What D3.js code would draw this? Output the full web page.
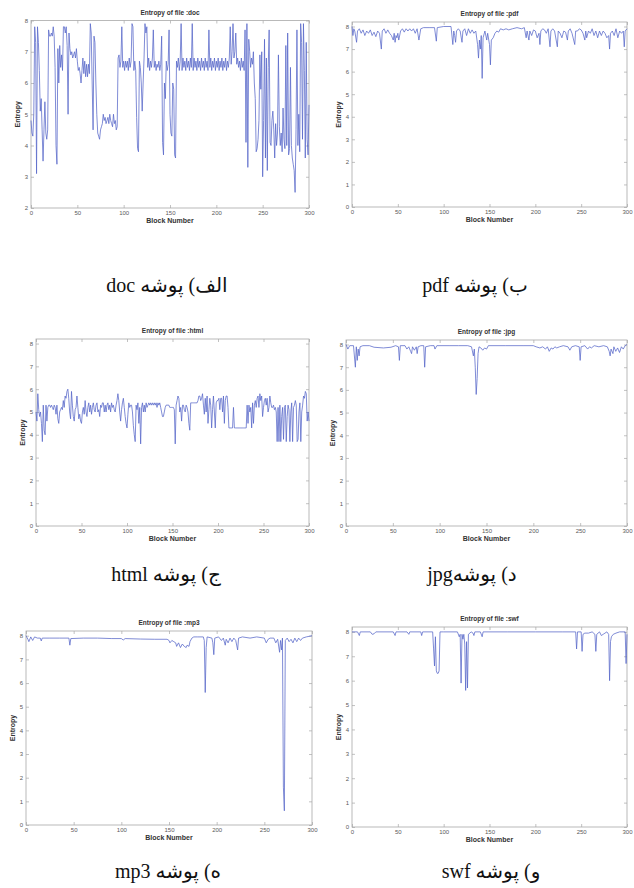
<!DOCTYPE html>
<html lang="fa">
<head>
<meta charset="UTF-8">
<title>Entropy of files</title>
<style>
  body { margin: 0; background: #fff; }
  svg { display: block; }
</style>
</head>
<body>
<script src="https://d3js.org/d3.v7.min.js"></script>
<script>

// entropy per block (blocks 0..300)
var docEntropy = [
  4.8, 4.4, 4.3, 5.0, 7.8, 7.3, 3.1, 7.8, 7.3, 6.4,
  5.1, 5.5, 4.5, 3.5, 4.5, 5.4, 4.4, 4.2, 4.5, 7.7,
  7.5, 7.5, 7.6, 7.5, 7.8, 7.5, 6.5, 4.0, 3.4, 7.1,
  6.0, 7.2, 6.5, 6.9, 6.4, 7.8, 7.8, 7.6, 7.8, 7.2,
  5.0, 7.6, 7.1, 6.9, 7.0, 6.8, 6.9, 7.0, 6.8, 7.1,
  6.7, 6.4, 6.5, 6.3, 6.0, 6.4, 6.8, 6.3, 6.7, 6.2,
  6.6, 6.2, 6.6, 6.3, 7.9, 7.6, 6.0, 4.5, 7.5, 7.3,
  6.0, 5.0, 4.4, 4.3, 4.2, 4.5, 4.6, 4.7, 5.0, 4.8,
  4.9, 4.7, 4.8, 4.9, 4.7, 5.0, 4.8, 4.7, 4.6, 5.0,
  4.7, 4.8, 4.5, 4.6, 6.8, 6.9, 6.5, 6.7, 7.8, 6.5,
  6.7, 6.4, 6.7, 6.5, 6.7, 6.4, 6.8, 6.5, 6.7, 7.9,
  7.8, 6.4, 6.7, 6.4, 4.9, 3.9, 3.8, 6.7, 6.5, 6.0,
  5.1, 6.0, 6.8, 7.9, 7.6, 7.8, 6.5, 6.8, 6.4, 6.7,
  6.5, 6.8, 7.7, 6.5, 6.7, 6.4, 6.6, 6.5, 6.7, 6.4,
  6.6, 7.5, 4.1, 3.7, 6.0, 5.5, 6.7, 6.4, 6.6, 7.7,
  5.0, 4.4, 4.3, 6.0, 5.8, 3.7, 3.6, 6.7, 6.5, 6.8,
  6.4, 6.7, 7.9, 6.4, 6.8, 6.5, 6.7, 6.4, 6.8, 6.5,
  6.7, 6.4, 6.8, 6.5, 7.9, 6.4, 6.8, 6.5, 6.7, 6.4,
  6.8, 6.5, 6.7, 6.4, 6.8, 6.5, 6.7, 6.4, 6.8, 6.5,
  6.7, 6.4, 7.7, 6.5, 6.8, 6.4, 6.7, 6.5, 6.8, 6.4,
  6.7, 6.5, 6.8, 6.4, 6.7, 6.5, 6.8, 6.4, 6.7, 6.5,
  6.8, 6.4, 6.7, 6.5, 6.8, 7.8, 6.6, 7.0, 7.9, 6.8,
  7.0, 7.6, 6.6, 6.8, 6.5, 6.7, 6.4, 6.8, 6.5, 6.7,
  6.4, 7.7, 4.1, 7.9, 3.3, 7.4, 7.0, 6.5, 6.8, 6.6,
  7.0, 6.0, 5.5, 3.8, 3.9, 4.2, 4.8, 6.9, 5.8, 7.0,
  3.0, 4.8, 7.4, 3.6, 6.8, 3.2, 6.5, 7.7, 4.1, 4.0,
  4.8, 5.1, 4.5, 3.6, 4.7, 4.0, 4.4, 6.9, 4.6, 4.0,
  4.4, 3.8, 5.2, 4.2, 3.9, 7.2, 4.0, 7.6, 3.7, 3.9,
  6.5, 4.0, 3.6, 3.4, 3.2, 2.5, 4.5, 7.7, 4.0, 5.0,
  3.8, 7.9, 7.3, 4.2, 7.9, 6.4, 3.6, 7.3, 4.2, 3.7,
  5.3
];

var htmlEntropy = [
  5.0, 4.6, 5.8, 5.1, 4.8, 5.0, 4.5, 3.7, 5.3, 4.2,
  4.0, 5.3, 4.6, 5.2, 5.3, 5.3, 5.2, 5.3, 5.2, 5.1,
  5.3, 5.2, 4.9, 5.3, 4.7, 4.5, 5.0, 5.1, 5.2, 5.1,
  5.5, 5.2, 5.7, 5.6, 5.9, 6.0, 5.6, 5.0, 4.7, 5.9,
  5.3, 4.8, 4.6, 5.1, 5.2, 5.7, 5.2, 4.7, 4.9, 4.6,
  4.5, 5.0, 5.2, 4.9, 5.5, 5.0, 4.8, 5.2, 5.4, 5.0,
  5.3, 4.9, 5.2, 5.4, 5.1, 5.0, 5.3, 5.4, 5.0, 5.1,
  4.8, 5.3, 5.2, 5.4, 5.4, 5.0, 5.3, 5.0, 5.3, 5.4,
  5.1, 5.3, 5.0, 5.4, 5.2, 5.3, 5.1, 5.0, 5.3, 5.5,
  5.8, 5.5, 5.0, 4.6, 5.1, 5.4, 5.6, 5.2, 4.8, 4.5,
  4.3, 4.9, 5.4, 5.2, 5.3, 5.3, 5.0, 4.4, 4.0, 3.7,
  5.3, 5.1, 5.4, 4.5, 5.2, 3.6, 5.2, 5.4, 5.0, 5.3,
  5.0, 5.4, 5.2, 5.3, 5.4, 5.3, 5.4, 5.3, 5.4, 5.3,
  5.4, 5.3, 5.4, 5.2, 5.4, 5.3, 5.4, 5.2, 5.0, 4.8,
  4.8, 5.0, 5.2, 5.3, 5.3, 5.3, 5.3, 5.2, 5.2, 5.2,
  5.2, 5.2, 5.1, 3.6, 5.3, 5.5, 5.7, 5.6, 5.0, 5.2,
  4.6, 5.3, 5.3, 5.1, 5.0, 5.3, 5.2, 5.0, 4.5, 4.2,
  5.4, 5.4, 5.4, 5.4, 5.4, 5.4, 5.4, 5.4, 5.5, 5.7,
  5.7, 5.5, 5.6, 5.8, 5.3, 4.9, 5.6, 5.0, 5.7, 4.5,
  5.1, 5.6, 5.3, 4.3, 5.1, 5.7, 5.0, 4.3, 5.4, 5.5,
  5.5, 5.6, 5.1, 5.6, 5.6, 5.0, 5.7, 4.5, 5.5, 5.7,
  5.7, 5.2, 4.3, 4.3, 4.3, 4.3, 4.3, 5.2, 4.3, 4.3,
  4.3, 4.3, 4.3, 4.3, 4.3, 4.3, 4.3, 4.3, 4.3, 4.3,
  4.3, 4.3, 5.3, 4.5, 5.3, 5.0, 5.2, 4.3, 5.4, 4.5,
  5.3, 5.5, 5.2, 5.6, 5.7, 5.2, 5.8, 5.5, 5.7, 4.8,
  5.2, 5.5, 5.6, 5.3, 5.6, 5.0, 5.2, 5.7, 5.4, 5.2,
  5.2, 5.3, 5.1, 5.2, 5.0, 3.7, 5.2, 3.7, 5.3, 3.7,
  4.8, 5.2, 3.8, 5.2, 5.3, 3.7, 4.8, 5.3, 5.1, 3.7,
  5.0, 5.4, 3.7, 5.2, 5.3, 5.5, 5.3, 3.7, 3.8, 5.0,
  5.4, 3.7, 5.0, 5.3, 5.7, 5.6, 5.9, 5.8, 4.6, 5.0,
  4.6
];

// [block, entropy] pairs for the mostly flat files
var pdfPoints = [
  [0,8.0],[1,7.6],[2,7.9],[3,7.8],[5,7.3],[6,7.8],[8,7.9],[10,7.7],[12,7.85],[14,7.6],
  [16,7.8],[18,7.7],[20,7.85],[22,7.6],[24,7.75],[26,7.55],[28,7.8],[30,7.7],[32,7.0],[33,7.8],
  [35,7.9],[37,7.7],[39,7.85],[41,7.7],[43,7.6],[45,7.4],[46,7.7],[47,7.3],[48,7.6],[49,7.5],
  [50,7.7],[51,7.4],[53,7.8],[55,7.9],[57,7.75],[59,7.9],[61,7.8],[63,7.9],[65,7.8],[67,7.9],
  [69,7.7],[71,7.9],[73,7.4],[75,7.9],[78,7.95],[85,7.95],[90,7.95],[92,7.35],[93,7.95],[100,8.0],
  [108,8.0],[110,7.2],[111,7.8],[112,7.6],[113,7.3],[114,7.8],[116,7.9],[118,7.8],[120,7.3],[121,7.8],
  [123,7.9],[125,7.6],[127,7.9],[129,7.7],[131,7.85],[133,7.7],[135,7.8],[137,7.2],[138,6.6],[139,7.4],
  [140,7.0],[141,7.6],[142,5.7],[143,7.5],[145,7.8],[147,7.4],[148,7.7],[150,7.2],[151,6.3],[152,7.4],
  [154,7.5],[156,7.7],[158,7.8],[160,7.75],[162,7.9],[165,7.85],[168,7.9],[171,7.85],[175,7.9],[180,7.95],
  [185,7.9],[188,7.95],[190,7.5],[191,7.8],[193,7.4],[194,7.8],[196,7.6],[198,7.85],[200,7.8],[202,7.5],
  [204,7.7],[205,7.2],[206,7.8],[208,7.9],[210,7.85],[212,7.7],[214,7.9],[216,7.1],[217,7.8],[219,7.9],
  [221,7.8],[224,7.1],[225,7.8],[227,7.7],[229,7.5],[231,7.8],[233,7.75],[235,7.4],[236,7.8],[238,7.9],
  [240,7.7],[243,7.2],[244,7.8],[246,7.8],[248,7.9],[250,7.85],[252,7.7],[254,7.4],[255,7.8],[256,7.5],
  [258,7.8],[260,7.7],[262,7.9],[264,7.6],[266,7.8],[268,7.5],[270,7.8],[272,7.6],[274,7.8],[276,7.7],
  [278,7.5],[280,7.6],[281,7.0],[282,7.7],[284,7.8],[286,7.6],[288,7.9],[290,7.5],[292,7.8],[294,7.7],
  [296,7.8],[297,7.1],[298,7.8],[300,7.9]
];

var jpgPoints = [
  [0,8.0],[2,7.8],[4,7.95],[8,7.95],[10,7.0],[11,7.9],[12,7.3],[13,7.8],[14,7.5],[15,7.9],
  [18,7.95],[25,7.95],[30,7.88],[40,7.85],[48,7.88],[53,7.95],[56,7.9],[57,7.3],[58,7.95],[63,7.95],
  [65,7.8],[67,7.9],[69,7.7],[70,7.6],[71,7.9],[73,7.75],[75,7.9],[76,7.6],[77,7.9],[80,7.95],
  [83,7.95],[84,7.0],[85,7.9],[90,7.95],[94,7.95],[95,7.8],[97,7.95],[110,7.95],[120,7.95],[130,7.95],
  [134,7.9],[136,7.5],[137,7.8],[138,7.0],[139,5.8],[140,6.5],[141,7.6],[142,7.9],[144,7.85],[146,7.75],
  [148,7.85],[150,7.8],[152,7.95],[170,7.95],[190,7.95],[200,7.95],[203,7.9],[207,7.85],[210,7.9],[213,7.8],
  [215,7.9],[217,7.7],[219,7.85],[221,7.8],[223,7.9],[225,7.85],[228,7.9],[232,7.95],[237,7.9],[239,7.75],
  [241,7.9],[245,7.95],[249,7.9],[250,7.3],[251,7.9],[255,7.95],[258,7.8],[260,7.9],[262,7.85],[265,7.95],
  [270,7.9],[275,7.95],[279,7.9],[281,7.7],[282,7.5],[283,7.8],[285,7.6],[286,7.9],[288,7.7],[290,7.85],
  [292,7.65],[294,7.9],[296,7.8],[298,7.95],[300,8.0]
];

var mp3Points = [
  [0,8.0],[2,7.85],[3,7.75],[5,7.95],[7,7.8],[9,7.95],[12,7.9],[15,7.9],[16,7.78],[17,7.9],
  [25,7.9],[35,7.9],[45,7.9],[46,7.6],[47,7.88],[60,7.9],[75,7.9],[90,7.88],[100,7.88],[102,7.82],
  [104,7.88],[120,7.86],[135,7.85],[148,7.85],[150,7.8],[151,7.7],[153,7.8],[155,7.75],[157,7.7],[158,7.55],
  [160,7.7],[162,7.5],[164,7.65],[166,7.55],[168,7.5],[169,7.6],[171,7.55],[172,7.75],[174,7.9],[176,7.95],
  [180,7.95],[186,7.95],[187,7.8],[188,5.6],[189,7.5],[190,7.95],[195,7.9],[196,7.7],[197,7.2],[198,7.9],
  [202,7.95],[205,7.8],[207,7.9],[209,7.6],[210,7.85],[212,7.7],[214,7.9],[216,7.75],[218,7.9],[220,7.8],
  [222,7.4],[223,7.9],[227,7.95],[235,7.9],[242,7.95],[250,7.9],[252,7.7],[254,7.85],[256,7.9],[260,7.9],
  [262,7.7],[264,7.85],[266,7.3],[267,7.8],[268,7.4],[269,7.9],[270,1.6],[271,0.6],[272,7.8],[274,7.9],
  [276,7.75],[278,7.85],[280,7.7],[282,7.9],[284,7.75],[286,7.9],[288,7.8],[290,7.9],[294,7.95],[300,8.0]
];

var swfPoints = [
  [0,8.0],[6,8.0],[8,7.85],[9,8.0],[20,8.0],[22,7.9],[24,7.92],[26,8.0],[45,8.0],[47,7.85],
  [48,8.0],[60,8.0],[62,7.9],[63,8.0],[75,8.0],[76,7.85],[77,8.0],[88,8.0],[89,7.3],[90,6.6],
  [91,7.8],[92,6.4],[93,6.3],[94,6.3],[95,6.4],[96,8.0],[100,8.0],[115,8.0],[117,7.8],[118,7.9],
  [119,5.9],[120,7.9],[121,7.7],[122,7.9],[123,7.5],[124,5.6],[125,7.6],[126,5.7],[127,7.9],[130,8.0],
  [132,7.95],[133,7.85],[134,8.0],[140,8.0],[142,7.8],[143,8.0],[170,8.0],[200,8.0],[230,8.0],[244,8.0],
  [245,7.3],[246,8.0],[250,8.0],[251,7.2],[252,7.9],[254,7.95],[258,7.95],[262,8.0],[265,7.9],[266,7.2],
  [267,7.9],[270,8.0],[272,7.85],[274,7.9],[278,8.0],[280,7.9],[281,6.0],[282,7.6],[283,7.8],[285,7.9],
  [288,7.95],[292,8.0],[298,8.0],[299,6.7],[300,7.9]
];

var xTicks = [0, 50, 100, 150, 200, 250, 300];
var yTicksDoc = [2, 3, 4, 5, 6, 7, 8];
var yTicksAll = [0, 1, 2, 3, 4, 5, 6, 7, 8];

var fileNames = ["doc", "pdf", "html", "jpg", "mp3", "swf"];
var captions = ["الف) پوشه doc", "ب) پوشه pdf", "ج) پوشه html", "د) پوشهjpg", "ه) پوشه mp3", "و) پوشه swf"];

// layout of the six axes boxes
var panels = [
  {series: docEntropy.map(function (v, i) { return [i, v]; }), yDomain: [2, 8], yTicks: yTicksDoc,
   left: 31, right: 309, top: 20.5, bottom: 208, capX: 167, capY: 292},
  {series: pdfPoints, yDomain: [0, 8.2], yTicks: yTicksAll,
   left: 352, right: 627, top: 22, bottom: 207, capX: 475, capY: 292},
  {series: htmlEntropy.map(function (v, i) { return [i, v]; }), yDomain: [0, 8.2], yTicks: yTicksAll,
   left: 36, right: 309, top: 339, bottom: 526, capX: 166, capY: 581},
  {series: jpgPoints, yDomain: [0, 8.2], yTicks: yTicksAll,
   left: 346, right: 627, top: 340, bottom: 526, capX: 472, capY: 581},
  {series: mp3Points, yDomain: [0, 8.2], yTicks: yTicksAll,
   left: 26, right: 312, top: 631, bottom: 825, capX: 168, capY: 878},
  {series: swfPoints, yDomain: [0, 8.2], yTicks: yTicksAll,
   left: 352, right: 627, top: 627, bottom: 827, capX: 491, capY: 878}
];

var svg = d3.select("body").append("svg")
    .attr("width", 634)
    .attr("height", 888);

var lineColor = "#5566c8",
    boxColor = "#a8a8a8",
    tickText = "#5a5a5a";

panels.forEach(function (p, k) {
    var x = d3.scaleLinear().domain([0, 300]).range([p.left, p.right]);
    var y = d3.scaleLinear().domain(p.yDomain).range([p.bottom, p.top]);
    var g = svg.append("g");

    // bottom / left axes with inward ticks
    var xb = g.append("g")
        .attr("transform", "translate(0," + p.bottom + ")")
        .call(d3.axisBottom(x).tickValues(xTicks).tickSize(-3).tickPadding(3)
            .tickFormat(d3.format("d")));
    var yl = g.append("g")
        .attr("transform", "translate(" + p.left + ",0)")
        .call(d3.axisLeft(y).tickValues(p.yTicks).tickSize(-3).tickPadding(3)
            .tickFormat(d3.format("d")));
    // mirrored ticks on top and right
    var xt = g.append("g")
        .attr("transform", "translate(0," + p.top + ")")
        .call(d3.axisTop(x).tickValues(xTicks).tickSize(-3).tickFormat(""));
    var yr = g.append("g")
        .attr("transform", "translate(" + p.right + ",0)")
        .call(d3.axisRight(y).tickValues(p.yTicks).tickSize(-3).tickFormat(""));

    [xb, yl, xt, yr].forEach(function (a) {
        a.select(".domain").remove();
        a.selectAll(".tick line").attr("stroke", boxColor).attr("stroke-width", 0.7);
        a.selectAll(".tick text")
            .attr("fill", tickText)
            .attr("font-family", "Liberation Sans, Arial, sans-serif")
            .attr("font-size", "6px");
    });

    g.append("rect")
        .attr("x", p.left)
        .attr("y", p.top)
        .attr("width", p.right - p.left)
        .attr("height", p.bottom - p.top)
        .attr("fill", "none")
        .attr("stroke", boxColor)
        .attr("stroke-width", 0.8);

    var line = d3.line()
        .x(function (d) { return x(d[0]); })
        .y(function (d) { return y(d[1]); });

    g.append("path")
        .datum(p.series)
        .attr("d", line)
        .attr("fill", "none")
        .attr("stroke", lineColor)
        .attr("stroke-width", 0.75)
        .attr("stroke-linejoin", "round");

    var cx = (p.left + p.right) / 2;

    g.append("text")
        .attr("x", cx)
        .attr("y", p.top - 6)
        .attr("text-anchor", "middle")
        .attr("font-family", "Liberation Sans, Arial, sans-serif")
        .attr("font-weight", "bold")
        .attr("font-size", "6.5px")
        .attr("fill", "#333")
        .text("Entropy of file :" + fileNames[k]);

    g.append("text")
        .attr("x", cx)
        .attr("y", p.bottom + 15)
        .attr("text-anchor", "middle")
        .attr("font-family", "Liberation Sans, Arial, sans-serif")
        .attr("font-weight", "bold")
        .attr("font-size", "7px")
        .attr("fill", "#333")
        .text("Block Number");

    g.append("text")
        .attr("transform", "translate(" + (p.left - 11) + "," + ((p.top + p.bottom) / 2) + ") rotate(-90)")
        .attr("text-anchor", "middle")
        .attr("font-family", "Liberation Sans, Arial, sans-serif")
        .attr("font-weight", "bold")
        .attr("font-size", "7px")
        .attr("fill", "#333")
        .text("Entropy");

    svg.append("text")
        .attr("x", p.capX)
        .attr("y", p.capY)
        .attr("text-anchor", "middle")
        .attr("direction", "rtl")
        .attr("font-family", "Liberation Serif, Times New Roman, DejaVu Sans, serif")
        .attr("font-size", "20px")
        .attr("fill", "#111")
        .text(captions[k]);
});

</script>
</body>
</html>
